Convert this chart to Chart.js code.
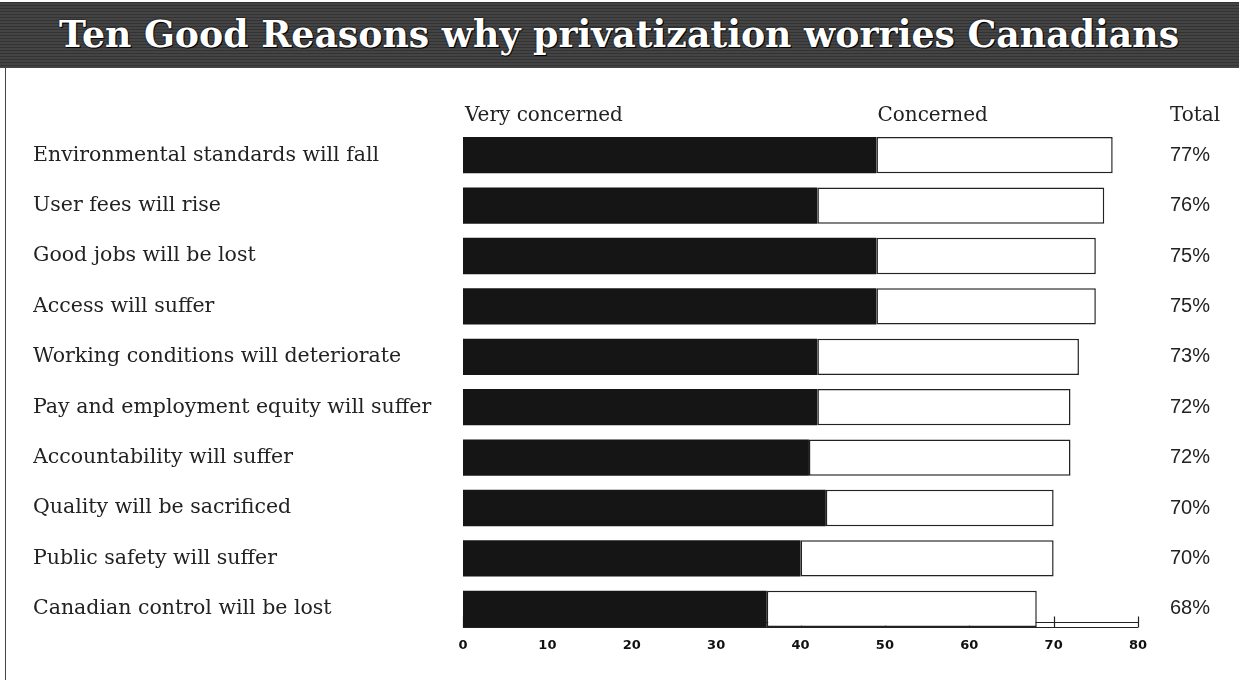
<!DOCTYPE html>
<html>
<head>
<meta charset="utf-8">
<script src="https://cdn.jsdelivr.net/npm/chart.js@4.4.1/dist/chart.umd.min.js"></script>
<style>
  html, body { margin: 0; padding: 0; background: #fff; }
  #wrap { position: relative; width: 1239px; height: 680px; overflow: hidden; }
  #band {
    position: absolute; left: 0; top: 2px; width: 1239px; height: 66px;
    background: repeating-linear-gradient(0deg, #444 0px, #444 2px, #333 2px, #333 3px);
    text-align: center; white-space: nowrap;
  }
  #title {
    display: inline-block; margin-top: 9px;
    font-family: "DejaVu Serif", serif; font-weight: bold; font-size: 38px;
    color: #fff; transform-origin: center top;
    text-shadow: 0 0 2px #000, 1px 1px 0 #000;
  }
  #leftRule { position: absolute; left: 5px; top: 68px; width: 1px; height: 612px; background: #444; }
  canvas { position: absolute; left: 0; top: 0; }
</style>
</head>
<body>
<div id="wrap">
  <canvas id="chart" width="1239" height="680"></canvas>
  <div id="band"><span id="title">Ten Good Reasons why privatization worries Canadians</span></div>
  <div id="leftRule"></div>
</div>
<script>
// categories, top to bottom
const categories = [
  'Environmental standards will fall',
  'User fees will rise',
  'Good jobs will be lost',
  'Access will suffer',
  'Working conditions will deteriorate',
  'Pay and employment equity will suffer',
  'Accountability will suffer',
  'Quality will be sacrificed',
  'Public safety will suffer',
  'Canadian control will be lost'
];

// percent "very concerned" (dark part of the bar)
const veryConcerned = [49, 42, 49, 49, 42, 42, 41, 43, 40, 36];

// percent "concerned" (white part of the bar)
const concerned = [28, 34, 26, 26, 31, 30, 31, 27, 30, 32];

// totals shown on the right
const totalLabels = ['77%', '76%', '75%', '75%', '73%', '72%', '72%', '70%', '70%', '68%'];

// column headers
const headers = ['Very concerned', 'Concerned', 'Total'];

const SERIF = '"DejaVu Serif", serif';

/**
 * Fit the title to the width it has in the original
 */
const titleEl = document.getElementById('title');
const titleW = titleEl.getBoundingClientRect().width;
titleEl.style.transform = 'scaleX(' + (1120 / titleW) + ')';

/**
 * Column headers and the bottom axis strip
 */
const decorPlugin = {
  id: 'decor',
  beforeDatasetsDraw(chart) {
    const { ctx, scales: { x } } = chart;
    const bar = chart.getDatasetMeta(0).data[categories.length - 1];
    const axisY = Math.round(bar.y + bar.height / 2) + 0.5;
    ctx.save();
    ctx.strokeStyle = '#222';
    ctx.lineWidth = 1.2;
    ctx.beginPath();
    ctx.moveTo(x.getPixelForValue(0), axisY);
    ctx.lineTo(x.getPixelForValue(80), axisY);
    ctx.moveTo(x.getPixelForValue(0), axisY - 5);
    ctx.lineTo(x.getPixelForValue(80), axisY - 5);
    for (let v = 0; v <= 80; v += 10) {
      const px = Math.round(x.getPixelForValue(v)) + 0.5;
      ctx.moveTo(px, axisY);
      ctx.lineTo(px, axisY - 11);
    }
    ctx.stroke();
    ctx.restore();
  },
  afterDraw(chart) {
    const { ctx, chartArea, scales: { x } } = chart;
    ctx.save();
    ctx.font = '20px ' + SERIF;
    ctx.fillStyle = '#222';
    ctx.textBaseline = 'middle';
    ctx.textAlign = 'left';
    const hy = 116;
    ctx.fillText(headers[0], x.getPixelForValue(0) + 2, hy);
    ctx.fillText(headers[1], x.getPixelForValue(49) + 1, hy);
    ctx.fillText(headers[2], chartArea.right + 32, hy);
    ctx.restore();
  }
};

const chart = new Chart(document.getElementById('chart'), {
  type: 'bar',
  data: {
    labels: categories,
    datasets: [
      {
        label: 'Very concerned',
        data: veryConcerned,
        backgroundColor: '#151515',
        borderColor: '#151515',
        borderWidth: 0,
        barPercentage: 0.72,
        categoryPercentage: 1
      },
      {
        label: 'Concerned',
        data: concerned,
        backgroundColor: '#ffffff',
        borderColor: '#222',
        borderWidth: 1.5,
        borderSkipped: false,
        barPercentage: 0.72,
        categoryPercentage: 1
      }
    ]
  },
  options: {
    indexAxis: 'y',
    responsive: false,
    animation: false,
    layout: { padding: { left: 33, right: 0, top: 130, bottom: 16 } },
    plugins: {
      legend: { display: false },
      tooltip: { enabled: false },
      title: { display: false }
    },
    scales: {
      x: {
        stacked: true,
        min: 0,
        max: 80,
        grid: { display: false, drawTicks: false },
        border: { display: false },
        ticks: {
          stepSize: 10,
          padding: 4,
          color: '#111',
          font: { family: '"DejaVu Sans", sans-serif', size: 13, weight: 'bold' }
        },
        afterFit(s) { s.height = 30; }
      },
      y: {
        stacked: true,
        grid: { display: false, drawTicks: false },
        border: { display: false },
        ticks: {
          crossAlign: 'far',
          color: '#222',
          font: { family: SERIF, size: 20.5 }
        },
        afterFit(s) { s.width = 430; }
      },
      y2: {
        type: 'category',
        position: 'right',
        labels: totalLabels,
        offset: true,
        grid: { display: false, drawTicks: false },
        border: { display: false },
        ticks: {
          padding: 32,
          color: '#222',
          font: { family: '"Liberation Sans", sans-serif', size: 20 }
        },
        afterFit(s) { s.width = 101; }
      }
    }
  },
  plugins: [decorPlugin]
});
</script>
</body>
</html>
